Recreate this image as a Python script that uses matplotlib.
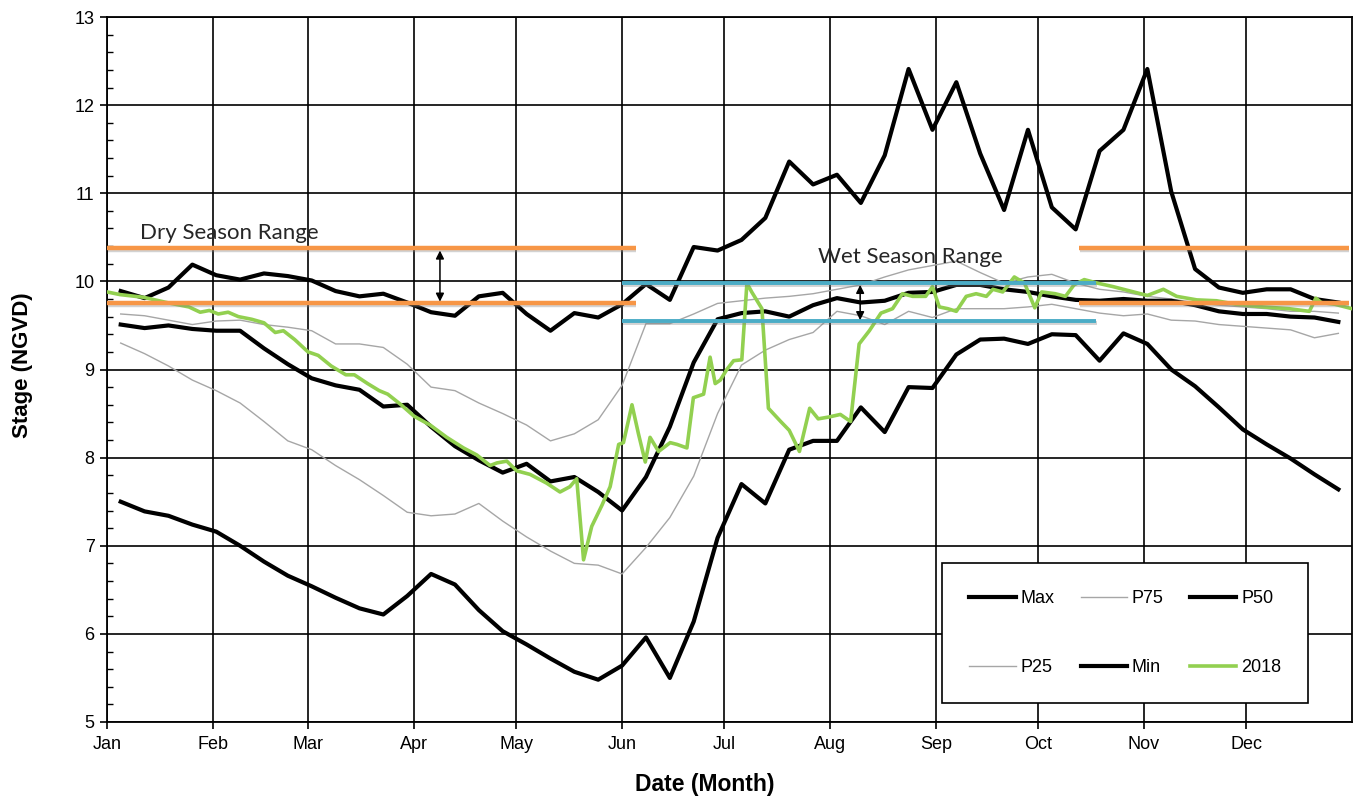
import matplotlib
matplotlib.use('Agg')
import matplotlib.pyplot as plt
import matplotlib.patheffects as pe
from matplotlib.ticker import MultipleLocator, FixedLocator
import numpy as np

# ---------------- data ----------------
month_starts = [0, 31, 59, 90, 120, 151, 181, 212, 243, 273, 304, 334]
month_labels = ['Jan', 'Feb', 'Mar', 'Apr', 'May', 'Jun',
                'Jul', 'Aug', 'Sep', 'Oct', 'Nov', 'Dec']

week_index = np.arange(52)
week_day = 4 + 7 * week_index  # day of year of each weekly statistic

stage_max = [9.89, 9.81, 9.93, 10.19, 10.07, 10.02, 10.09, 10.06, 10.01, 9.89,
             9.83, 9.86, 9.76, 9.65, 9.61, 9.83, 9.87, 9.63, 9.44, 9.64,
             9.59, 9.74, 9.97, 9.79, 10.39, 10.35, 10.47, 10.72, 11.36, 11.10,
             11.21, 10.89, 11.43, 12.41, 11.72, 12.26, 11.45, 10.81, 11.72, 10.84,
             10.59, 11.48, 11.72, 12.41, 11.02, 10.14, 9.93, 9.87, 9.91, 9.91,
             9.80, 9.76]
stage_p75 = [9.63, 9.61, 9.56, 9.51, 9.55, 9.56, 9.51, 9.48, 9.44, 9.29,
             9.29, 9.25, 9.06, 8.80, 8.76, 8.62, 8.50, 8.37, 8.19, 8.27,
             8.43, 8.82, 9.52, 9.52, 9.63, 9.75, 9.78, 9.81, 9.83, 9.86,
             9.91, 9.96, 10.05, 10.13, 10.18, 10.23, 10.10, 9.98, 10.05, 10.08,
             9.98, 9.91, 9.88, 9.83, 9.80, 9.76, 9.73, 9.71, 9.69, 9.66,
             9.66, 9.64]
stage_p50 = [9.51, 9.47, 9.50, 9.46, 9.44, 9.44, 9.24, 9.06, 8.90, 8.82,
             8.77, 8.58, 8.60, 8.35, 8.13, 7.97, 7.83, 7.93, 7.73, 7.78,
             7.61, 7.40, 7.78, 8.35, 9.08, 9.57, 9.64, 9.66, 9.60, 9.73,
             9.81, 9.76, 9.78, 9.87, 9.88, 9.96, 9.96, 9.91, 9.88, 9.83,
             9.79, 9.78, 9.80, 9.78, 9.78, 9.73, 9.66, 9.63, 9.63, 9.60,
             9.59, 9.54]
stage_p25 = [9.30, 9.18, 9.04, 8.88, 8.76, 8.62, 8.41, 8.19, 8.09, 7.91,
             7.75, 7.57, 7.38, 7.34, 7.36, 7.48, 7.28, 7.10, 6.94, 6.80,
             6.78, 6.68, 6.98, 7.32, 7.79, 8.50, 9.05, 9.22, 9.34, 9.42,
             9.66, 9.61, 9.51, 9.66, 9.59, 9.69, 9.69, 9.69, 9.71, 9.74,
             9.69, 9.64, 9.61, 9.63, 9.56, 9.55, 9.51, 9.49, 9.47, 9.45,
             9.36, 9.41]
stage_min = [7.50, 7.39, 7.34, 7.24, 7.16, 7.00, 6.82, 6.66, 6.54, 6.41,
             6.29, 6.22, 6.43, 6.68, 6.56, 6.27, 6.03, 5.88, 5.72, 5.57,
             5.48, 5.64, 5.96, 5.50, 6.14, 7.09, 7.70, 7.48, 8.09, 8.19,
             8.19, 8.57, 8.29, 8.80, 8.79, 9.17, 9.34, 9.35, 9.29, 9.40,
             9.39, 9.10, 9.41, 9.29, 9.00, 8.81, 8.57, 8.32, 8.15, 7.99,
             7.81, 7.64]

y2018_day = [0, 3.8, 10.6, 17.5, 21.4, 24, 27.3, 30, 32.6, 35.5, 38.5, 42.4, 46,
             49.3, 51.7, 55, 58.9, 61.9, 65.7, 70, 72.5, 76.4, 79.8, 82.3, 86.2,
             90, 94.7, 99.6, 104.5, 108.4, 112.3, 114.3, 117.2, 120.1, 124,
             128.9, 132.8, 135.7, 137.7, 139.7, 142.1, 145.1, 147.5, 150, 151.4,
             153.9, 155.8, 157.8, 159.2, 161.7, 165.1, 167.1, 170, 171.9, 174.9,
             176.8, 178.3, 179.8, 181.7, 183.7, 186.1, 187.6, 189, 192, 193.9,
             197.5, 200, 203, 206, 208.5, 211.5, 215, 218, 220.5, 223.5, 226.9,
             230.3, 233.2, 236.2, 240, 242, 244, 246.5, 249, 251.9, 254.8, 257.8,
             259.7, 262.6, 266, 269, 272, 274, 278, 281, 283.5, 286.5, 290.4,
             295, 300, 305, 309.7, 313.6, 319.5, 325.3, 331, 339, 346.6, 352.5,
             354.4, 356, 360, 365]
y2018_val = [9.88, 9.85, 9.82, 9.76, 9.73, 9.71, 9.65, 9.67, 9.63, 9.65, 9.60, 9.57, 9.53,
             9.42, 9.44, 9.34, 9.20, 9.16, 9.04, 8.94, 8.94, 8.84, 8.76, 8.72, 8.60,
             8.47, 8.37, 8.23, 8.11, 8.03, 7.91, 7.94, 7.96, 7.85, 7.81,
             7.71, 7.61, 7.67, 7.76, 6.84, 7.22, 7.46, 7.67, 8.15, 8.17,
             8.60, 8.27, 7.95, 8.23, 8.07, 8.17, 8.15, 8.11, 8.68, 8.72,
             9.14, 8.84, 8.88, 9.00, 9.10, 9.11, 9.98, 9.88, 9.69, 8.56,
             8.41, 8.31, 8.07, 8.56, 8.44, 8.46, 8.49, 8.41, 9.29, 9.44, 9.64,
             9.69, 9.86, 9.83, 9.83, 9.94, 9.71, 9.69, 9.66, 9.83, 9.86, 9.83,
             9.91, 9.88, 10.05, 9.98, 9.70, 9.88, 9.86, 9.83, 9.96, 10.02, 9.98,
             9.94, 9.89, 9.84, 9.91, 9.83, 9.79, 9.78, 9.74, 9.71, 9.69, 9.66,
             9.81, 9.76, 9.74, 9.69]

dry_range = [9.76, 10.38]
dry_spans = [[0, 155], [285, 364]]
wet_range = [9.55, 9.98]
wet_span = [151, 290]

# ---------------- figure ----------------
fig = plt.figure(figsize=(13.57, 8), dpi=100)
ax = fig.add_axes([0.0789, 0.0975, 0.9174, 0.88125])

ax.set_xlim(0, 365)
ax.set_ylim(5, 13)

ax.xaxis.set_major_locator(FixedLocator(month_starts))
ax.set_xticks(month_starts)
ax.set_xticklabels(month_labels)
ax.yaxis.set_major_locator(MultipleLocator(1))
ax.yaxis.set_minor_locator(MultipleLocator(0.2))
ax.tick_params(axis='both', which='major', direction='out', length=5, width=1.2,
               color='black', labelsize=13)
ax.tick_params(axis='y', which='minor', direction='in', length=4, width=1.0)
ax.tick_params(axis='x', which='major', pad=5)
ax.tick_params(axis='y', which='major', pad=4)
for lab in ax.get_xticklabels() + ax.get_yticklabels():
    lab.set_fontfamily('Liberation Sans')

ax.grid(True, which='major', color='black', linewidth=1.2)
ax.set_axisbelow(True)
for s in ax.spines.values():
    s.set_color('black')
    s.set_linewidth(1.3)

gray = '#a6a6a6'
l_max, = ax.plot(week_day, stage_max, color='black', lw=3.0, label='Max', zorder=3)
l_p75, = ax.plot(week_day, stage_p75, color=gray, lw=1.0, label='P75', zorder=3)
l_p50, = ax.plot(week_day, stage_p50, color='black', lw=3.0, label='P50', zorder=3)
l_p25, = ax.plot(week_day, stage_p25, color=gray, lw=1.0, label='P25', zorder=3)
l_min, = ax.plot(week_day, stage_min, color='black', lw=3.0, label='Min', zorder=3)
l_2018, = ax.plot(y2018_day, y2018_val, color='#92d050', lw=2.6, label='2018', zorder=4)

shadow = [pe.SimpleLineShadow(offset=(0.5, -1.5), shadow_color='#808080', alpha=0.35), pe.Normal()]
for span in dry_spans:
    for v in dry_range:
        ax.plot(span, [v, v], color='#f79646', lw=3.2, zorder=5,
                solid_capstyle='butt', path_effects=shadow)
for v in wet_range:
    ax.plot(wet_span, [v, v], color='#4bacc6', lw=2.8, zorder=5,
            solid_capstyle='butt', path_effects=shadow)

ax.annotate('', xy=(97.6, dry_range[0] + 0.01), xytext=(97.6, dry_range[1] - 0.03),
            arrowprops=dict(arrowstyle='<|-|>', color='black', lw=1.1,
                            mutation_scale=12, shrinkA=0, shrinkB=0), zorder=6)
ax.annotate('', xy=(220.8, wet_range[0] + 0.01), xytext=(220.8, wet_range[1] - 0.02),
            arrowprops=dict(arrowstyle='<|-|>', color='black', lw=1.1,
                            mutation_scale=12, shrinkA=0, shrinkB=0), zorder=6)

ax.text(9.7, 10.55, 'Dry Season Range', fontfamily='Lato', fontsize=16,
        color='#262626', va='center', ha='left', zorder=6)
ax.text(208.5, 10.28, 'Wet Season Range', fontfamily='Lato', fontsize=16,
        color='#262626', va='center', ha='left', zorder=6)

ax.set_xlabel('Date (Month)', fontfamily='Liberation Sans', fontsize=16.5,
              fontweight='bold')
ax.xaxis.set_label_coords(0.48, -0.0725)
ax.set_ylabel('Stage (NGVD)', fontfamily='Liberation Sans', fontsize=16,
              fontweight='bold')
ax.yaxis.set_label_coords(-0.0594, 0.506)

handles = [l_max, l_p25, l_p75, l_min, l_p50, l_2018]
leg = ax.legend(handles=handles, labels=[h.get_label() for h in handles],
                ncol=3, loc='lower left', bbox_to_anchor=(0.671, 0.027, 0.294, 0.207),
                mode='expand', frameon=True, fancybox=False, framealpha=1,
                edgecolor='black', prop={'family': 'Liberation Sans', 'size': 13},
                handlelength=2.55, handletextpad=0.28, columnspacing=1.5,
                labelspacing=2.85, borderpad=1.5, borderaxespad=0)
leg.get_frame().set_linewidth(1.2)
leg.set_zorder(10)

fig.savefig('out.png', dpi=100)
